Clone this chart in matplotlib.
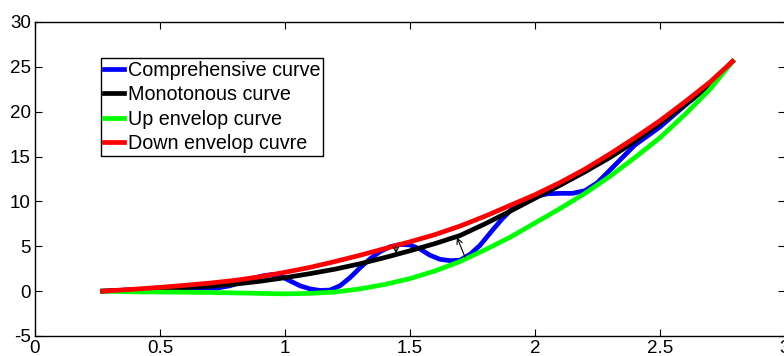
import matplotlib
matplotlib.use("Agg")
import matplotlib.pyplot as plt

# ---- data ----
x_env = [0.27, 0.4, 0.5, 0.6, 0.7, 0.8, 0.9, 1.0, 1.1, 1.2, 1.3, 1.4, 1.5, 1.6, 1.7,
         1.8, 1.9, 2.0, 2.1, 2.2, 2.3, 2.4, 2.5, 2.6, 2.7, 2.79]
down_env = [0, 0.22, 0.42, 0.65, 0.9, 1.2, 1.6, 2.1, 2.65, 3.3, 4.0, 4.75, 5.5, 6.3, 7.25,
            8.35, 9.55, 10.75, 12.1, 13.6, 15.3, 17.1, 19.0, 21.1, 23.3, 25.6]
monotonous = [0, 0.15, 0.27, 0.4, 0.55, 0.78, 1.1, 1.5, 1.95, 2.45, 3.05, 3.75, 4.5, 5.3, 6.2,
              7.5, 8.9, 10.35, 11.8, 13.3, 14.9, 16.7, 18.7, 20.8, 23.0, 25.6]
up_env = [0, -0.08, -0.1, -0.12, -0.15, -0.2, -0.25, -0.3, -0.25, -0.1, 0.25, 0.75, 1.4, 2.25, 3.3,
          4.6, 6.0, 7.6, 9.2, 10.9, 12.8, 14.9, 17.1, 19.7, 22.5, 25.6]

x_comp = [0.27, 0.35, 0.45, 0.55, 0.62, 0.68, 0.73, 0.78, 0.83, 0.88, 0.92, 0.95, 0.98, 1.02,
          1.06, 1.1, 1.14, 1.18, 1.22, 1.26, 1.3, 1.34, 1.38, 1.42, 1.46, 1.5, 1.54, 1.58,
          1.62, 1.66, 1.7, 1.74, 1.78, 1.83, 1.87, 1.91, 1.95, 2.0, 2.05, 2.1, 2.15, 2.2,
          2.25, 2.3, 2.4, 2.5, 2.6, 2.7, 2.79]
comprehensive = [0, 0.1, 0.2, 0.28, 0.32, 0.32, 0.35, 0.6, 1.05, 1.5, 1.75, 1.85, 1.7, 1.15,
                 0.6, 0.25, 0.08, 0.12, 0.6, 1.5, 2.6, 3.6, 4.4, 4.95, 5.2, 5.15, 4.7, 4.0,
                 3.55, 3.4, 3.45, 4.1, 5.1, 6.8, 8.1, 9.2, 10.0, 10.55, 10.85, 10.9, 10.9, 11.2,
                 12.1, 13.5, 16.3, 18.3, 20.7, 23.0, 25.6]

labels = ["Comprehensive curve", "Monotonous curve", "Up envelop curve", "Down envelop cuvre"]
x_ticks = [0, 0.5, 1, 1.5, 2, 2.5, 3]
x_ticklabels = ["0", "0.5", "1", "1.5", "2", "2.5", "3"]
y_ticks = [-5, 0, 5, 10, 15, 20, 25, 30]
y_ticklabels = ["-5", "0", "5", "10", "15", "20", "25", "30"]

plt.rcParams['font.family'] = ['Liberation Sans', 'DejaVu Sans']
plt.rcParams['axes.unicode_minus'] = False

fig = plt.figure(figsize=(7.84, 3.56), dpi=100)
ax = fig.add_axes([35/784, 20/356, 750/784, 314/356])

lw = 3.4
l1, = ax.plot(x_comp, comprehensive, color=(0, 0, 1), lw=lw)
l2, = ax.plot(x_env, monotonous, color='k', lw=lw)
l3, = ax.plot(x_env, up_env, color=(0, 1, 0), lw=lw)
l4, = ax.plot(x_env, down_env, color=(1, 0, 0), lw=lw)

ax.annotate("", xy=(1.444, 4.2), xytext=(1.444, 5.1),
            arrowprops=dict(arrowstyle='->', lw=0.8, color='k', shrinkA=0, shrinkB=0))
ax.annotate("", xy=(1.688, 6.0), xytext=(1.72, 3.8),
            arrowprops=dict(arrowstyle='->', lw=0.8, color='k', shrinkA=0, shrinkB=0))

ax.set_xlim(0, 3)
ax.set_ylim(-5, 30)
ax.set_xticks(x_ticks)
ax.set_xticklabels(x_ticklabels)
ax.set_yticks(y_ticks)
ax.set_yticklabels(y_ticklabels)
ax.tick_params(direction='in', length=5, width=0.8, top=True, right=True,
               labelsize=13.5, pad=3)
for s in ax.spines.values():
    s.set_linewidth(1.0)

leg = ax.legend([l1, l2, l3, l4], labels, loc='upper left',
                bbox_to_anchor=(66/750, 278/314), borderaxespad=0,
                fontsize=14.2, handlelength=1.0, handletextpad=0.2,
                labelspacing=0.27, borderpad=0.15, fancybox=False,
                framealpha=1, edgecolor='k')
leg.get_frame().set_linewidth(1.0)

fig.savefig("out.png", dpi=100)
